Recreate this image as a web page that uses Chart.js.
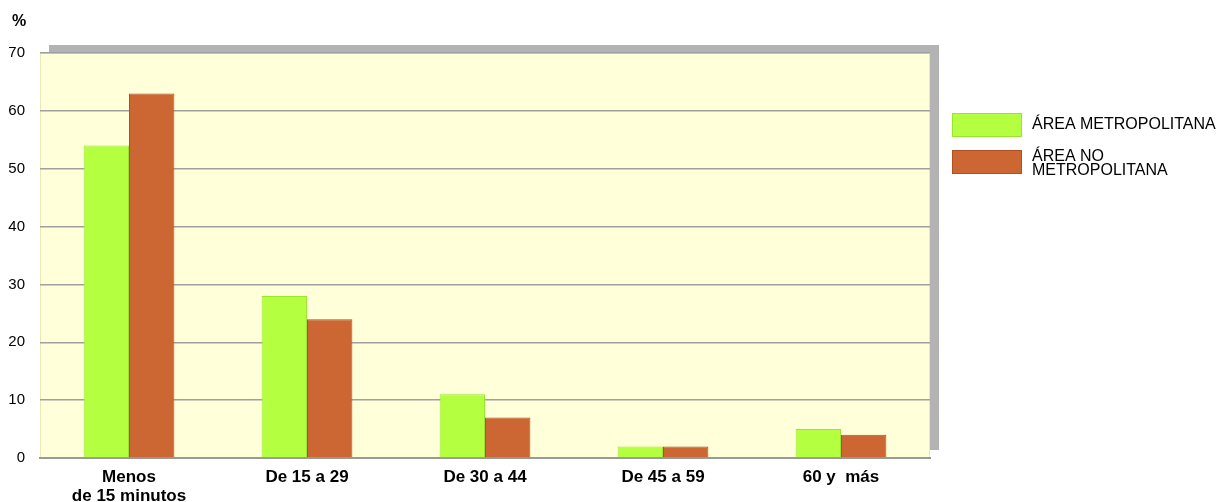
<!DOCTYPE html>
<html>
<head>
<meta charset="utf-8">
<script src="https://cdn.jsdelivr.net/npm/chart.js@4/dist/chart.umd.min.js"></script>
<style>
  html, body { margin: 0; padding: 0; background: #fff; }
  #wrap { width: 1227px; height: 502px; }
</style>
</head>
<body>
<div id="wrap"><canvas id="chart" width="1227" height="502"></canvas></div>
<script>
// data
const categories = [['Menos', 'de 15 minutos'], 'De 15 a 29', 'De 30 a 44', 'De 45 a 59', '60 y  más'];
const metro = [54, 28, 11, 2, 5];
const noMetro = [63, 24, 7, 2, 4];
const seriesNames = ['ÁREA METROPOLITANA', ['ÁREA NO', 'METROPOLITANA']];

const FONT = '"Liberation Sans", Arial, sans-serif';

// yellow plot background with grey drop shadow
const plotBack = {
  id: 'plotBack',
  beforeDraw(chart) {
    const { ctx, chartArea: a } = chart;
    ctx.save();
    ctx.fillStyle = '#b3b3b3';
    ctx.fillRect(a.left + 9, a.top - 8, a.right - a.left, a.bottom - a.top);
    ctx.fillStyle = '#ffffd9';
    ctx.fillRect(a.left, a.top, a.right - a.left, a.bottom - a.top);
    ctx.strokeStyle = '#e8e8b8';
    ctx.lineWidth = 1;
    ctx.strokeRect(a.left + 0.5, a.top + 0.5, a.right - a.left - 1, a.bottom - a.top);
    ctx.restore();
  }
};

// "%" label and the legend on the right
const extras = {
  id: 'extras',
  afterDraw(chart) {
    const { ctx } = chart;
    ctx.save();
    ctx.fillStyle = '#000';
    ctx.font = 'bold 16px ' + FONT;
    ctx.textBaseline = 'middle';
    ctx.textAlign = 'left';
    ctx.fillText('%', 12, 22);

    const boxes = [113, 150];
    chart.data.datasets.forEach((ds, i) => {
      const y = boxes[i];
      ctx.fillStyle = ds.backgroundColor;
      ctx.fillRect(952, y, 70, 24);
      ctx.strokeStyle = ds.borderColor;
      ctx.lineWidth = 1;
      ctx.strokeRect(952.5, y + 0.5, 69, 23);
      ctx.fillStyle = '#000';
      ctx.font = '16px ' + FONT;
      const lines = Array.isArray(seriesNames[i]) ? seriesNames[i] : [seriesNames[i]];
      const lh = 14;
      const start = y + 12 - (lines.length - 1) * lh / 2 + (lines.length > 1 ? 2 : 0);
      lines.forEach((t, k) => ctx.fillText(t, 1032, start + k * lh));
    });
    ctx.restore();
  }
};

new Chart(document.getElementById('chart'), {
  type: 'bar',
  data: {
    labels: categories,
    datasets: [
      { label: 'ÁREA METROPOLITANA', data: metro, backgroundColor: '#b3ff40', borderColor: '#9ae62c', borderWidth: 1 },
      { label: 'ÁREA NO METROPOLITANA', data: noMetro, backgroundColor: '#cc6633', borderColor: '#b24f22', borderWidth: 1 }
    ]
  },
  options: {
    responsive: false,
    animation: false,
    layout: { padding: { top: 53, right: 297, bottom: 0, left: 0 } },
    datasets: { bar: { categoryPercentage: 0.51, barPercentage: 1 } },
    plugins: { legend: { display: false }, tooltip: { enabled: false } },
    scales: {
      x: {
        grid: { display: false, drawTicks: false },
        border: { display: true, color: '#999999', width: 2 },
        ticks: { color: '#000', padding: 10, maxRotation: 0, font: { family: FONT, size: 17, weight: 'bold', lineHeight: 1.12 } },
        afterFit(s) { s.height = 44; }
      },
      y: {
        min: 0, max: 70,
        grid: { color: '#a0a0a0', lineWidth: 1.5, drawTicks: false },
        border: { display: false },
        ticks: { stepSize: 10, color: '#000', padding: 15, font: { family: FONT, size: 15 } },
        afterFit(s) { s.width = 40; }
      }
    }
  },
  plugins: [plotBack, extras]
});
</script>
</body>
</html>
